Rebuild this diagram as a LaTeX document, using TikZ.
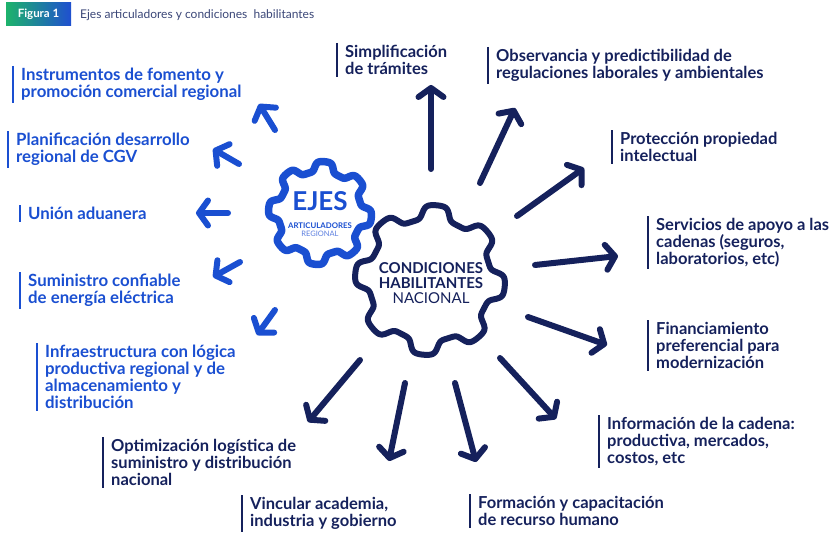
\documentclass[tikz,border=0pt]{standalone}
\usepackage{fontspec}
\setmainfont{Lato}
\usetikzlibrary{arrows.meta}
\definecolor{navy}{HTML}{15215C}
\definecolor{bblue}{HTML}{1A4FD1}
\definecolor{lblue}{HTML}{5C7FE0}
\definecolor{titlec}{HTML}{3A4677}
\definecolor{badgeg}{HTML}{1DB36B}
\definecolor{badgeb}{HTML}{1F4FD0}
\tikzset{
  lbl/.style={anchor=north west, align=left, inner xsep=8pt, inner ysep=2pt,
    font=\fontsize{16.5}{17}\selectfont\bfseries},
  navylbl/.style={lbl, text=navy},
  bluelbl/.style={lbl, text=bblue, font=\fontsize{16.8}{17}\selectfont\bfseries},
  navybar/.style={draw=navy, line width=1.6pt},
  bluebar/.style={draw=bblue, line width=1.8pt},
  navyarrow/.style={draw=navy, line width=6pt, line cap=round, line join=round,
    -{Straight Barb[length=9pt, width=25pt, round]}},
  bluearrow/.style={draw=bblue, line width=6pt, line cap=round, line join=round,
    -{Straight Barb[length=9pt, width=25pt, round]}},
  gearblue/.style={draw=bblue, line width=7.5pt, line join=round, fill=white},
  gearnavy/.style={draw=navy, line width=6pt, line join=round, fill=white},
}
\begin{document}
\begin{tikzpicture}[x=1pt,y=-1pt]
\useasboundingbox (0,0) rectangle (833,535);
% badge and title
\shade[left color=badgeg, right color=badgeb] (6,3) rectangle (71,26);
\node[text=white, font=\fontsize{11.5}{13}\selectfont\bfseries] (badge) at (38.5,14.5) {Figura 1};
\node[anchor=west, text=titlec, font=\fontsize{12}{13}\selectfont, inner sep=0] (title) at (80,15) {Ejes articuladores y condiciones\ \ habilitantes};

% gears
\draw[gearblue, shift={(320,213)}] plot[domain=0:360, samples=361] (\x:{46.5+5*tanh(2.2*cos(8*(\x-5)))/tanh(2.2)}) -- cycle;
\draw[gearnavy, shift={(430,280)}] plot[domain=0:360, samples=361] (\x:{68+7*tanh(2.2*cos(8*(\x-5)))/tanh(2.2)}) -- cycle;

\node[text=bblue, font=\fontsize{26}{27}\selectfont\bfseries, inner sep=0] (ejes) at (320,201) {EJES};
\node[text=bblue, font=\fontsize{7.8}{8}\selectfont\bfseries, inner sep=0] (artic) at (320,226) {ARTICULADORES};
\node[text=lblue, font=\fontsize{7.5}{8}\selectfont, inner sep=0] (regional) at (320,234) {REGIONAL};

\node[text=navy, font=\fontsize{15}{16}\selectfont\bfseries, inner sep=0] (cond) at (431,268) {CONDICIONES};
\node[text=navy, font=\fontsize{15}{16}\selectfont\bfseries, inner sep=0] (habil) at (431,283) {HABILITANTES};
\node[text=navy, font=\fontsize{15}{16}\selectfont, inner sep=0] (nac) at (431,298) {NACIONAL};

% blue labels
\node[bluelbl] (l1) at (13,66) {Instrumentos de fomento y\\promoción comercial regional};
\node[bluelbl] (l2) at (8,131) {Planificación desarrollo\\regional de CGV};
\node[bluelbl] (l3) at (20,205) {Unión aduanera};
\node[bluelbl] (l4) at (20,272) {Suministro confiable\\de energía eléctrica};
\node[bluelbl] (l5) at (37,343) {Infraestructura con lógica\\productiva regional y de\\almacenamiento y\\distribución};
\foreach \n in {l1,l2,l3,l4,l5} \draw[bluebar] (\n.north west) -- (\n.south west);

% navy labels
\node[navylbl] (r1) at (337,43) {Simplificación\\de trámites};
\node[navylbl] (r2) at (488,47) {Observancia y predictibilidad de\\regulaciones laborales y ambientales};
\node[navylbl] (r3) at (612,130) {Protección propiedad\\intelectual};
\node[navylbl] (r4) at (648,216) {Servicios de apoyo a las\\cadenas (seguros,\\laboratorios, etc)};
\node[navylbl] (r5) at (648,320) {Financiamiento\\preferencial para\\modernización};
\node[navylbl] (r6) at (599,415) {Información de la cadena:\\productiva, mercados,\\costos, etc};
\node[navylbl] (r7) at (470,494) {Formación y capacitación\\de recurso humano};
\node[navylbl] (r8) at (242,495) {Vincular academia,\\industria y gobierno};
\node[navylbl] (r9) at (103,437) {Optimización logística de\\suministro y distribución\\nacional};
\foreach \n in {r1,r2,r3,r4,r5,r6,r7,r8,r9} \draw[navybar] (\n.north west) -- (\n.south west);

% arrow end points
\coordinate (ba1) at (275,130); \coordinate (bt1) at (259,104);
\coordinate (ba2) at (239,164); \coordinate (bt2) at (213,149);
\coordinate (ba3) at (228,213); \coordinate (bt3) at (196,213);
\coordinate (ba4) at (240,262); \coordinate (bt4) at (213,277);
\coordinate (ba5) at (275,310); \coordinate (bt5) at (257,335);

\coordinate (na1) at (431,169); \coordinate (nt1) at (431,85);
\coordinate (na2) at (480,183); \coordinate (nt2) at (515,108);
\coordinate (na3) at (517,216); \coordinate (nt3) at (584,168);
\coordinate (na4) at (535,265); \coordinate (nt4) at (618,256);
\coordinate (na5) at (528,317); \coordinate (nt5) at (607,345);
\coordinate (na6) at (500,358); \coordinate (nt6) at (556,419);
\coordinate (na7) at (455,383); \coordinate (nt7) at (476,462);
\coordinate (na8) at (405,383); \coordinate (nt8) at (389,461);
\coordinate (na9) at (360,360); \coordinate (nt9) at (308,422);

\foreach \i in {1,...,5} \draw[bluearrow] (ba\i) -- (bt\i);
\foreach \i in {1,...,9} \draw[navyarrow] (na\i) -- (nt\i);
\end{tikzpicture}
\end{document}
